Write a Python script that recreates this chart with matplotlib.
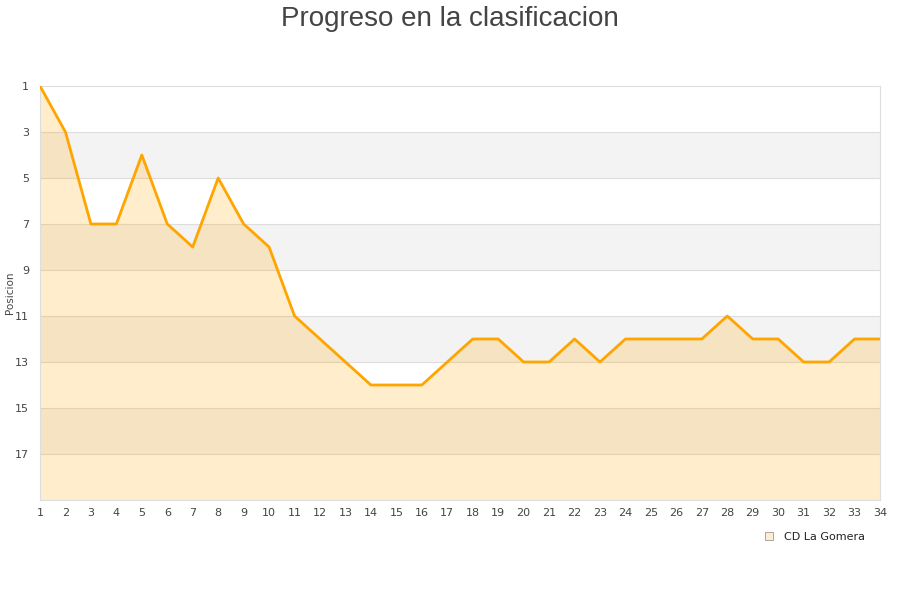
import numpy as np
import matplotlib.pyplot as plt

jornadas = list(range(1, 35))
posiciones = [1, 3, 7, 7, 4, 7, 8, 5, 7, 8, 11, 12, 13, 14, 14, 14, 13, 12, 12, 13,
              13, 12, 13, 12, 12, 12, 12, 11, 12, 12, 13, 13, 12, 12]
yticks = [1, 3, 5, 7, 9, 11, 13, 15, 17]
equipo = "CD La Gomera"

fig = plt.figure(figsize=(9, 6), dpi=100)
ax = fig.add_axes([40 / 900, 1 - 500 / 600, 840 / 900, 414 / 600])

# bandas alternas
for i, y0 in enumerate(range(1, 19, 2)):
    color = "#f3f3f3" if i % 2 == 1 else "white"
    ax.axhspan(y0, y0 + 2, color=color, zorder=0, lw=0)
for y in yticks[1:]:
    ax.axhline(y, color="#dddddd", lw=0.8, zorder=1)

ax.fill_between(jornadas, posiciones, 19, color="#ffa500", alpha=0.2, lw=0, zorder=2)
ax.plot(jornadas, posiciones, color="#ffa500", lw=2.0, zorder=3, label=equipo)

ax.set_xlim(1, 34)
ax.set_ylim(19, 1)
ax.set_xticks(jornadas)
ax.set_yticks(yticks)
ax.tick_params(axis="both", labelsize=8, colors="#444444", length=0, pad=6)
ax.tick_params(axis="y", pad=8)
for s in ["top", "right", "left", "bottom"]:
    ax.spines[s].set_color("#dddddd")
    ax.spines[s].set_linewidth(0.8)
ax.set_ylabel("Posicion", fontsize=7.5, color="#444444")
ax.yaxis.set_label_coords(-25 / 840, 0.5)

fig.text(0.5, 0.99, "Progreso en la clasificacion", ha="center", va="top",
         fontsize=20, color="#444444", family="Liberation Sans")

h = plt.Line2D([], [], marker="s", ls="", markersize=6, markerfacecolor="#ffeecc",
               markeredgecolor="#999999", markeredgewidth=0.6)
fig.legend([h], [equipo], loc="center right", bbox_to_anchor=(0.972, 0.105),
           frameon=False, fontsize=8, handletextpad=0.3, labelcolor="#222222")

fig.savefig("out.png", dpi=100)
